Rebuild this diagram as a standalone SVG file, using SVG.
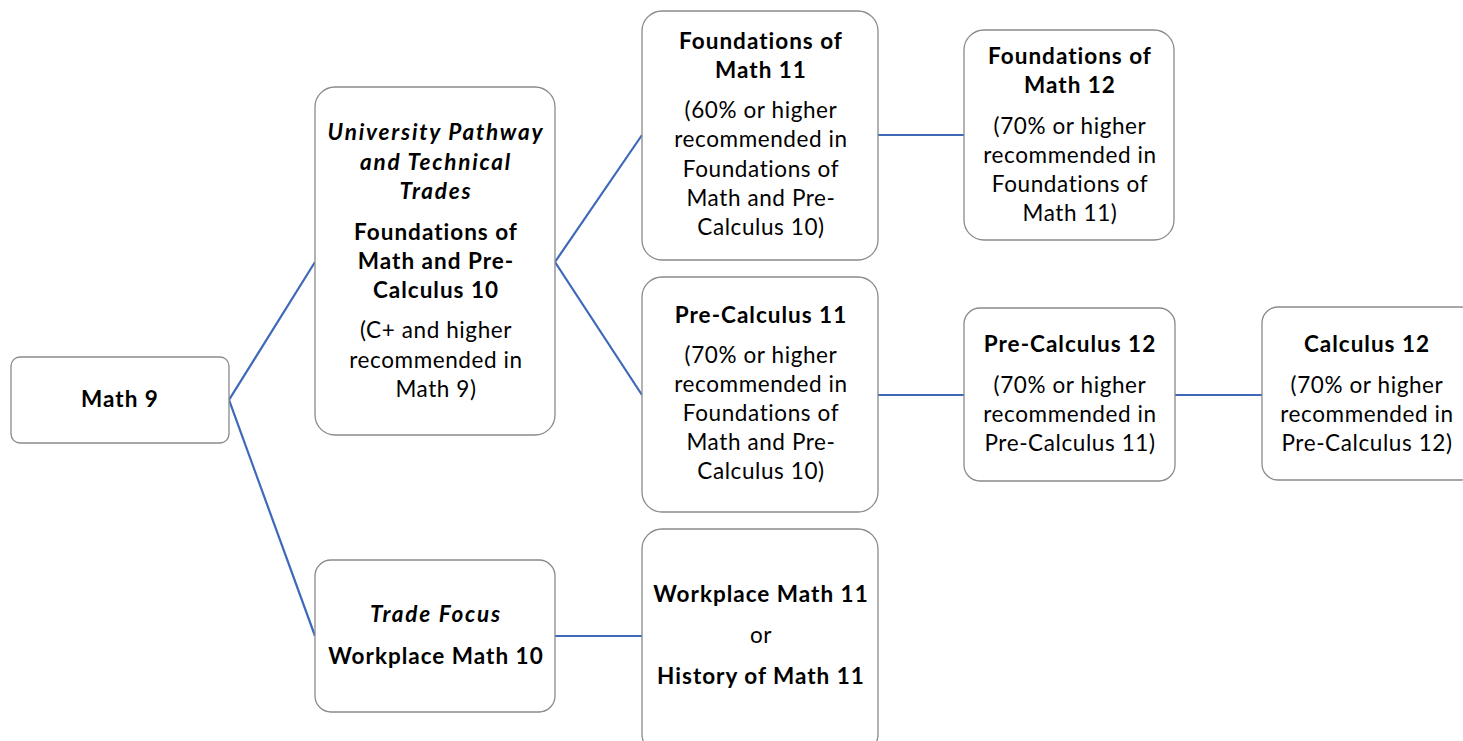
<svg xmlns="http://www.w3.org/2000/svg" width="1463" height="741" viewBox="0 0 1463 741">
<style>
.box{fill:#fff;stroke:#8a8a8a;stroke-width:1.3}
.t{font-family:Lato,"Liberation Sans",sans-serif;font-size:22.5px;fill:#000;text-anchor:middle;letter-spacing:0.6px}
.b{font-weight:bold;letter-spacing:1px}
.i{font-style:italic;letter-spacing:1.8px}
.c{stroke:#3E69B8;stroke-width:2.2;fill:none}
</style>
<rect width="1463" height="741" fill="#fff"/>
<g id="connectors">
<polyline class="c" points="315,262 229,400 315,636"/>
<polyline class="c" points="642,135 555,262 642,395"/>
<line class="c" x1="878" y1="135" x2="964" y2="135"/>
<line class="c" x1="878" y1="395" x2="964" y2="395"/>
<line class="c" x1="1175" y1="395" x2="1262" y2="395"/>
<line class="c" x1="555" y1="636" x2="642" y2="636"/>
</g>
<g id="math9">
<rect class="box" x="11" y="357" width="218" height="86" rx="9"/>
<text class="t b" x="120" y="407">Math 9</text>
</g>
<g id="university">
<rect class="box" x="315" y="87" width="240" height="348" rx="20"/>
<text class="t b i" x="436" y="140">University Pathway</text>
<text class="t b i" x="436" y="170">and Technical</text>
<text class="t b i" x="436" y="199">Trades</text>
<text class="t b" x="436" y="240">Foundations of</text>
<text class="t b" x="436" y="269">Math and Pre-</text>
<text class="t b" x="436" y="298">Calculus 10</text>
<text class="t" x="436" y="338">(C+ and higher</text>
<text class="t" x="436" y="368">recommended in</text>
<text class="t" x="436" y="397">Math 9)</text>
</g>
<g id="found11">
<rect class="box" x="642" y="11" width="236" height="249" rx="20"/>
<text class="t b" x="761" y="49">Foundations of</text>
<text class="t b" x="761" y="78">Math 11</text>
<text class="t" x="761" y="118">(60% or higher</text>
<text class="t" x="761" y="147">recommended in</text>
<text class="t" x="761" y="177">Foundations of</text>
<text class="t" x="761" y="206">Math and Pre-</text>
<text class="t" x="761" y="235">Calculus 10)</text>
</g>
<g id="found12">
<rect class="box" x="964" y="30" width="210" height="210" rx="20"/>
<text class="t b" x="1070" y="64">Foundations of</text>
<text class="t b" x="1070" y="93">Math 12</text>
<text class="t" x="1070" y="134">(70% or higher</text>
<text class="t" x="1070" y="163">recommended in</text>
<text class="t" x="1070" y="192">Foundations of</text>
<text class="t" x="1070" y="221">Math 11)</text>
</g>
<g id="precalc11">
<rect class="box" x="642" y="277" width="236" height="235" rx="20"/>
<text class="t b" x="761" y="323">Pre-Calculus 11</text>
<text class="t" x="761" y="363">(70% or higher</text>
<text class="t" x="761" y="392">recommended in</text>
<text class="t" x="761" y="421">Foundations of</text>
<text class="t" x="761" y="450">Math and Pre-</text>
<text class="t" x="761" y="479">Calculus 10)</text>
</g>
<g id="precalc12">
<rect class="box" x="964" y="308" width="211" height="173" rx="16"/>
<text class="t b" x="1070" y="352">Pre-Calculus 12</text>
<text class="t" x="1070" y="393">(70% or higher</text>
<text class="t" x="1070" y="422">recommended in</text>
<text class="t" x="1070" y="451">Pre-Calculus 11)</text>
</g>
<g id="calc12">
<rect class="box" x="1262" y="307" width="215" height="173" rx="16"/>
<text class="t b" x="1367" y="352">Calculus 12</text>
<text class="t" x="1367" y="393">(70% or higher</text>
<text class="t" x="1367" y="422">recommended in</text>
<text class="t" x="1367" y="451">Pre-Calculus 12)</text>
</g>
<g id="trade">
<rect class="box" x="315" y="560" width="240" height="152" rx="16"/>
<text class="t b i" x="436" y="622">Trade Focus</text>
<text class="t b" x="436" y="664">Workplace Math 10</text>
</g>
<g id="workplace11">
<rect class="box" x="642" y="529" width="236" height="225" rx="20"/>
<text class="t b" x="761" y="602">Workplace Math 11</text>
<text class="t" x="761" y="643">or</text>
<text class="t b" x="761" y="684">History of Math 11</text>
</g>
</svg>
